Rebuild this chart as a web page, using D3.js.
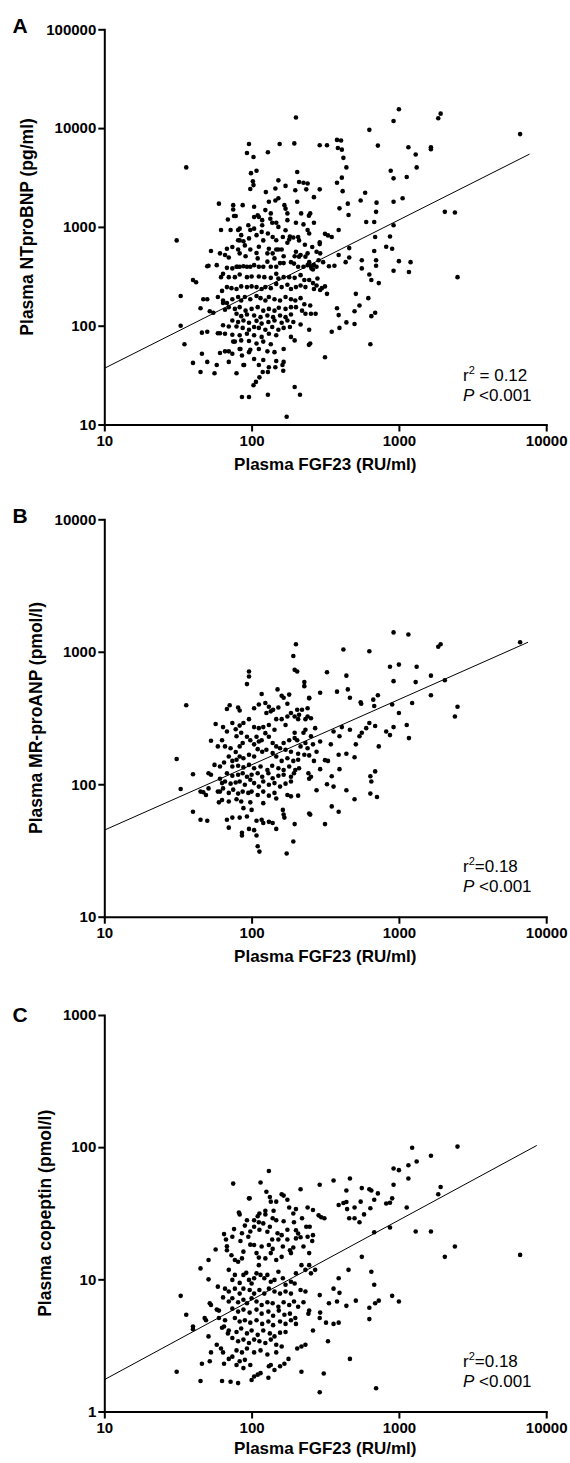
<!DOCTYPE html>
<html>
<head>
<meta charset="utf-8">
<script src="https://cdn.jsdelivr.net/npm/d3@7"></script>
<style>
  body { margin: 0; background: #fff; }
  svg { display: block; font-family: "Liberation Sans", Arial, sans-serif; }
</style>
</head>
<body>
<script>
// tick values
const fgfTicks = [10, 100, 1000, 10000];
const ntprobnpTicks = [10, 100, 1000, 10000, 100000];
const mrproanpTicks = [10, 100, 1000, 10000];
const copeptinTicks = [1, 10, 100, 1000];

// [FGF23 (RU/ml), NTproBNP (pg/ml)]
const pointsA = [
[31,730],[36,4000],[33,200],[33,100],[35,65],[40,290],[42,275],[40,42],[45,34],[50,43],[46,52],[46,85],[50,87],[45,150],[47,185],[50,185],[50,400],[51,405],[53,570],[52,140],[55,135],[56,33],[58,40],[60,1720],[62,930],[61,540],[58,410],[61,84],[61,53],[64,170],[66,145],[66,520],[70,490],[69,1190],[72,930],[75,1660],[75,1500],[76,1290],[78,1290],[70,55],[70,43],[75,69],[79,395],[81,930],[83,960],[83,730],[87,1660],[81,590],[84,58],[86,50],[86,19],[89,40],[96,19],[96,6900],[93,5600],[103,5100],[99,3500],[102,2900],[103,2650],[98,2420],[108,3700],[129,5700],[155,6900],[103,25],[107,27],[113,30],[119,34],[129,34],[129,20],[145,38],[162,40],[164,35],[173,12],[196,24],[213,20],[200,12800],[195,7000],[204,3600],[198,2350],[204,1800],[210,2850],[225,2800],[240,2750],[235,2400],[265,2000],[290,2400],[290,6700],[325,6700],[380,7600],[405,7500],[385,6300],[410,6050],[420,5000],[440,4000],[410,3150],[380,2800],[415,2300],[395,1540],[450,1720],[455,1320],[390,930],[550,1850],[590,2220],[630,9600],[720,6650],[705,1760],[700,1420],[680,1120],[600,1120],[880,3700],[920,3100],[920,1800],[1060,1950],[920,11800],[1000,15500],[1160,6400],[1300,5400],[1320,4000],[1130,3200],[1650,6400],[1650,6100],[1850,12600],[1920,14000],[2050,1420],[2400,1400],[2500,310],[6650,8700],[920,1040],[870,800],[820,630],[900,600],[920,360],[1000,450],[1200,440],[1170,350],[730,270],[690,790],[680,570],[700,460],[700,405],[630,330],[650,290],[620,190],[640,65],[650,125],[690,135],[560,460],[560,380],[460,490],[460,610],[435,440],[510,210],[540,160],[500,140],[500,104],[440,108],[390,128],[380,150],[395,95],[350,87],[315,48],[335,400],[365,405],[390,520],[330,820],[350,790],[315,850],[290,700],[290,670],[315,250],[325,210],[300,240],[280,300],[285,460],[265,410],[255,380],[240,930],[265,1100],[250,1370],[245,1300],[225,1060],[210,730],[230,660],[240,540],
[125,2250],[145,2450],[152,2960],[170,2600],[131,1800],[145,1850],[152,1950],[167,1660],[170,1530],[135,1370],[134,1210],[138,1100],[147,1100],[152,1000],[175,1370],[175,1170],[104,1260],[112,1260],[118,1040],[117,890],[104,960],[95,1040],[98,930],[108,825],[120,730],[96,765],[85,825],[88,715],[90,650],[83,540],[91,505],[98,590],[112,630],[108,545],[110,480],[128,540],[131,600],[139,540],[147,590],[143,480],[152,590],[160,590],[175,690],[182,800],[180,745],[192,780],[207,790],[210,500],[196,505],[185,440],[194,425],[207,395],[225,395],[240,410],[246,440],[253,400],[261,370],[232,500],[215,520],[200,560],[165,505],[165,430],[156,430],[147,395],[135,395],[128,445],[120,395],[112,395],[104,410],[98,395],[93,395],[88,400],[83,395],[80,395],[74,380],[68,385],[64,335],[62,310],[70,310],[77,310],[83,330],[93,310],[100,315],[112,315],[122,310],[135,305],[147,335],[152,300],[165,310],[180,310],[196,305],[215,325],[228,290],[246,290],[261,270],[276,255],[292,230],[265,235],[232,246],[215,255],[200,246],[185,235],[175,260],[160,246],[147,265],[135,240],[124,246],[117,235],[108,246],[100,250],[93,246],[85,250],[79,235],[73,240],[68,246],[63,225],
[59,195],[64,180],[68,170],[74,185],[81,195],[85,180],[90,195],[98,185],[108,200],[115,190],[124,180],[131,195],[143,185],[156,180],[170,195],[185,185],[198,180],[215,190],[228,165],[250,160],[70,154],[77,148],[83,154],[91,142],[100,148],[110,154],[120,142],[131,148],[143,142],[153,152],[170,148],[185,154],[200,154],[220,142],[79,132],[85,125],[93,130],[104,127],[115,122],[128,127],[140,122],[156,127],[170,122],[185,130],[232,132],[253,132],[272,132],
[74,113],[81,109],[88,113],[96,107],[108,112],[117,105],[130,109],[143,113],[160,107],[175,113],[192,109],[215,103],[64,101],[70,98],[79,98],[87,95],[96,91],[104,97],[112,95],[124,91],[138,97],[152,91],[165,95],[182,97],[246,91],[59,84],[66,83],[74,81],[83,80],[93,83],[104,80],[117,77],[131,83],[147,80],[185,77],
[77,69],[85,71],[96,70],[108,66],[120,69],[135,65],[196,71],[250,66],[245,64],[83,58],[98,57],[112,58],[128,55],[143,54],[165,58],[96,54],[66,55],[74,52],
[104,46],[120,45],[147,44],[112,40],[131,38],[165,43],[88,40],[79,33],
[74,627],[68,600],[81,732],[104,1600],[110,1310],[118,1170],[124,1480],[129,856],[139,790],[147,732],[163,790],[170,925],[200,1100],[217,1370],[246,856],[258,627],[276,560],[292,540],[306,440],[276,395]
];

// [FGF23 (RU/ml), MR-proANP (pmol/l)]
const pointsB = [
[31,155],[33,92],[36,395],[40,119],[40,62],[45,54],[50,53],[45,88],[47,87],[49,83],[51,93],[51,121],[53,118],[53,213],[57,285],[61,110],[60,73],[61,88],[64,270],[68,54],[70,47],[68,370],[71,395],[74,56],[81,380],[83,360],[96,710],[96,650],[93,570],[117,480],[150,520],[180,475],[192,930],[196,730],[204,710],[200,1140],[228,590],[228,550],[246,450],[246,445],[292,490],[325,700],[380,500],[440,660],[420,1040],[450,520],[465,450],[550,415],[555,405],[630,1010],[670,435],[720,470],[680,390],[920,1400],[870,770],[920,600],[1000,800],[1160,1350],[1320,770],[1300,590],[1650,660],[1650,470],[1230,410],[900,400],[1000,345],[920,270],[1130,280],[1170,223],[820,250],[870,235],[730,193],[690,275],[630,290],[600,265],[560,245],[540,230],[510,200],[465,258],[690,125],[640,115],[650,105],[640,85],[710,80],[500,77],[440,90],[390,62],[350,68],[315,50],[395,130],[390,167],[440,170],[500,160],[360,96],[325,100],[350,115],[410,270],[395,230],[360,250],[345,200],[330,150],[315,152],[292,130],[292,210],[276,176],[270,265],[253,230],[246,165],[265,150],[246,110],[276,90],[246,60],[250,59],[1850,1090],[1920,1140],[2050,610],[2500,385],[2400,325],[6650,1180],
[104,375],[112,400],[124,410],[131,385],[135,355],[126,345],[140,365],[152,380],[160,465],[165,450],[175,405],[185,345],[204,365],[210,335],[220,365],[240,325],[253,315],[240,375],[232,310],[207,310],[196,325],[175,325],[160,310],[147,310],[131,280],[120,270],[112,265],[104,270],[96,310],[88,290],[83,277],[78,260],[74,290],[68,250],[63,215],[59,193],[66,193],[72,187],[78,175],[83,193],[87,205],[93,228],[98,215],[108,228],[117,215],[131,228],[139,205],[147,193],[156,187],[165,205],[170,182],[185,176],[196,223],[204,215],[215,193],[232,205],[240,187],[261,200],[207,170],[228,167],[207,153],[192,150],[175,157],[160,150],[147,162],[139,172],[126,182],[118,176],[110,184],[104,162],[96,167],[88,157],[83,162],[79,153],[74,150],[70,162],[65,146],[61,136],[56,140],[74,136],[81,138],[88,134],[96,140],[104,132],[115,136],[128,128],[138,138],[152,132],[165,128],[180,136],[198,128],[210,132],[68,121],[74,116],[81,118],[87,121],[93,114],[100,118],[110,121],[118,114],[130,121],[139,111],[152,116],[165,118],[185,114],[194,121],[63,102],[66,105],[72,101],[78,103],[83,105],[90,99],[98,108],[104,102],[112,96],[120,105],[131,99],[143,102],[156,96],[170,101],[185,105],[59,88],[64,93],[70,86],[75,91],[81,85],[87,88],[95,86],[100,88],[110,83],[120,88],[131,82],[143,86],[175,83],[185,81],[207,82],[63,76],[70,74],[79,77],[85,74],[98,73],[120,72],[147,78],[88,66],[100,64],[83,56],[93,57],[108,53],[117,54],[131,52],[139,51],[163,64],[165,59],[167,56],[147,46],[120,51],[96,46],[86,43],[86,41],[104,45],[108,41],[110,34],[113,31],[173,30],[192,37],[196,50],[112,210],[124,243],[143,258],[170,280],[180,215],[104,200],[79,230],[85,245],[232,258],[225,245],[243,121],[253,114],[196,245]
];

// [FGF23 (RU/ml), copeptin (pmol/l)]
const pointsC = [
[31,2.0],[33,7.5],[36,5.4],[40,4.4],[40,4.2],[45,12.1],[46,2.3],[45,1.7],[48,5.1],[49,4.9],[51,14],[51,10],[51,3.7],[52,2.4],[53,2.8],[52,6.6],[53,6.4],[57,16.8],[58,5.9],[60,5.8],[58,3.2],[60,5.1],[59,8.8],[63,1.7],[62,3.0],[64,2.8],[63,4.3],[65,4.4],[65,22],[67,20],[68,17.8],[65,2.3],[70,2.5],[69,3.9],[72,1.68],[75,53],[76,24],[81,1.64],[82,32],[83,31],[84,19.5],[90,25.5],[88,16.2],[95,21],[96,41],[97,41],[98,18.3],[104,18.2],[100,1.73],[104,1.84],[110,1.9],[115,1.95],[110,30],[112,27],[115,54],[124,33],[126,46],[131,66],[139,29],[141,33],[130,1.8],[131,2.2],[135,2.25],[143,2.06],[156,2.2],[167,2.3],[178,2.5],[160,44],[165,43],[147,38.7],[180,35],[194,27],[215,48],[200,23.5],[207,22.2],[220,29],[235,25],[248,25],[240,35],[261,33.5],[218,2.0],[204,3.0],[218,3.1],[232,3.2],[290,52],[285,30.5],[297,29.5],[312,29],[290,7.6],[292,5.6],[290,5.1],[290,1.4],[309,1.94],[330,3.4],[320,4.7],[335,6.6],[360,8.5],[380,6.8],[390,4.7],[360,4.6],[390,10.2],[395,7.9],[360,56],[390,36.5],[420,37.8],[440,38.5],[445,34],[500,35],[465,58],[440,47],[460,29],[500,29],[540,27],[550,38.7],[580,31],[560,14.8],[455,11.8],[510,6.9],[440,6.3],[465,2.5],[560,49],[630,48],[650,47],[640,34.5],[680,40],[720,44.7],[680,22.7],[650,11.4],[680,9.1],[630,6.1],[630,5.0],[690,6.6],[730,6.9],[700,1.5],[820,37.5],[870,38],[900,41],[920,69],[1000,67],[920,52],[870,24.7],[900,7.5],[1000,6.8],[1130,35],[1160,73],[1230,99],[1160,58],[1320,78],[1300,23],[1650,23],[1650,86],[1850,44],[1920,50],[2050,14.8],[2400,17.7],[2500,101],[6650,15.3],
[104,25],[113,23.7],[120,26.5],[128,22.9],[133,25],[138,20],[131,18.2],[139,17],[152,20],[150,22.3],[160,21.6],[163,17.7],[175,20],[182,16.6],[192,17.4],[185,15.8],[200,20.4],[215,20.8],[225,17.7],[246,15.8],[258,19.5],[261,21.6],[117,17.7],[108,15.8],[112,14.6],[124,14.4],[135,15.8],[147,14.0],[160,14.8],[77,14.0],[73,15.2],[81,13.6],[86,14.4],
[70,11.8],[74,9.9],[77,10.8],[83,9.4],[88,10.8],[92,11.2],[96,9.9],[100,9.3],[104,10.2],[108,11.1],[112,12.8],[115,10.8],[122,10.2],[128,10.8],[135,9.6],[143,9.9],[152,11.4],[163,10.2],[170,9.1],[185,9.6],[200,11.1],[218,12.8],[232,11.8],[246,12.8],[253,11.1],[270,11.8],[196,9.3],[215,8.3],[66,8.5],[70,8.1],[77,8.5],[83,7.8],[88,8.5],[97,8.3],[104,7.8],[113,8.3],[122,7.8],[131,8.5],[143,8.1],[156,7.8],[170,8.1],[185,7.8],[232,8.1],
[64,7.3],[70,6.8],[74,7.2],[81,6.7],[88,7.0],[93,6.6],[100,7.2],[108,6.8],[117,6.4],[128,6.7],[139,6.6],[152,6.2],[165,6.7],[180,6.4],[194,6.8],[207,6.2],[225,6.7],[246,5.8],[243,5.5],[74,6.0],[81,5.7],[88,5.9],[97,5.6],[108,5.9],[117,5.5],[130,5.7],[140,5.3],[153,5.8],[167,5.4],[182,5.5],[198,5.1],[66,4.9],[77,5.1],[83,4.8],[90,4.9],[98,4.7],[108,4.9],[118,4.6],[130,4.8],[140,4.5],[156,4.8],[170,4.6],[185,4.9],[200,4.6],[261,4.1],
[70,4.1],[79,4.0],[85,4.25],[93,3.9],[100,4.1],[110,3.8],[120,4.1],[133,3.9],[143,3.7],[156,3.95],[170,4.0],[74,3.6],[81,3.4],[88,3.5],[96,3.3],[104,3.5],[113,3.4],[124,3.3],[135,3.5],[147,3.2],[160,3.1],[79,2.9],[86,2.8],[93,3.0],[104,2.8],[115,2.9],[128,2.7],[147,2.8],[74,2.6],[83,2.4],[90,2.46],[98,2.25],[88,2.13],[79,2.25],
[93,28],[98,23],[147,28],[165,27.5],[175,23.7],[240,21],[192,31.5],[200,34],[175,40],[133,42],[135,38.7],[124,31],[113,31.5],[104,28],[74,21],[86,22.3],[68,16.6]
];

// regression line end points (log-log fit)
const fitA = [[10, 37], [7700, 5450]];
const fitB = [[10, 45], [7530, 1180]];
const fitC = [[10, 1.74], [8630, 103]];

const panelLetters = ["A", "B", "C"];
const yTitles = ["Plasma NTproBNP (pg/ml)", "Plasma MR-proANP (pmol/l)", "Plasma copeptin (pmol/l)"];
const xTitle = "Plasma FGF23 (RU/ml)";
const r2Labels = [" = 0.12", "=0.18", "=0.18"];
const pLabel = " <0.001";

const width = 570, height = 1463;

const layout = [
  { top: 29.3, bottom: 424.5, letterY: 33, yTitleX: 33, xTitleY: 470, statY: 381 },
  { top: 519.3, bottom: 916.7, letterY: 523, yTitleX: 42, xTitleY: 962, statY: 872 },
  { top: 1015, bottom: 1411.5, letterY: 1022, yTitleX: 51, xTitleY: 1454, statY: 1367 }
];

const panels = [
  { ticks: ntprobnpTicks, domain: [10, 100000], pts: pointsA, fit: fitA },
  { ticks: mrproanpTicks, domain: [10, 10000], pts: pointsB, fit: fitB },
  { ticks: copeptinTicks, domain: [1, 1000], pts: pointsC, fit: fitC }
];

const svg = d3.select("body").append("svg")
  .attr("width", width)
  .attr("height", height);

svg.append("rect").attr("width", width).attr("height", height).attr("fill", "#fff");

const x = d3.scaleLog().domain([10, 10000]).range([104.3, 546.2]);

panels.forEach((p, i) => {
  const L = layout[i];
  const y = d3.scaleLog().domain(p.domain).range([L.bottom, L.top]);
  const g = svg.append("g");

  // regression line
  g.append("path")
    .datum(p.fit)
    .attr("d", d3.line().x(d => x(d[0])).y(d => y(d[1])))
    .attr("fill", "none")
    .attr("stroke", "#000")
    .attr("stroke-width", 1);

  // points
  g.selectAll("circle")
    .data(p.pts)
    .join("circle")
    .attr("cx", d => x(d[0]))
    .attr("cy", d => y(d[1]))
    .attr("r", 2.3)
    .attr("fill", "#000");

  // axes
  const xAxis = g.append("g")
    .attr("transform", `translate(0,${L.bottom})`)
    .call(d3.axisBottom(x).tickValues(fgfTicks).tickFormat(d3.format("d")).tickSize(7).tickSizeOuter(0).tickPadding(4));
  const yAxis = g.append("g")
    .attr("transform", `translate(${x(10)},0)`)
    .call(d3.axisLeft(y).tickValues(p.ticks).tickFormat(d3.format("d")).tickSize(6).tickSizeOuter(0).tickPadding(2));

  [xAxis, yAxis].forEach(a => {
    a.select(".domain").attr("stroke-width", 2).attr("stroke-linecap", "square");
    a.selectAll(".tick line").attr("stroke-width", 2);
    a.selectAll(".tick text")
      .attr("font-family", "Liberation Sans, Arial, sans-serif")
      .attr("font-size", 15)
      .attr("font-weight", "bold")
      .attr("fill", "#000");
  });

  // titles
  g.append("text")
    .attr("x", (x.range()[0] + x.range()[1]) / 2)
    .attr("y", L.xTitleY)
    .attr("text-anchor", "middle")
    .attr("font-size", 17)
    .attr("font-weight", "bold")
    .text(xTitle);

  g.append("text")
    .attr("transform", `translate(${L.yTitleX},${(L.top + L.bottom) / 2}) rotate(-90)`)
    .attr("text-anchor", "middle")
    .attr("font-size", 17.5)
    .attr("font-weight", "bold")
    .text(yTitles[i]);

  g.append("text")
    .attr("x", 12.5)
    .attr("y", L.letterY)
    .attr("font-size", 21)
    .attr("font-weight", "bold")
    .text(panelLetters[i]);

  // statistics
  const s1 = g.append("text").attr("x", 463).attr("y", L.statY).attr("font-size", 17);
  s1.append("tspan").text("r");
  s1.append("tspan").attr("font-size", 11).attr("dy", -7).text("2");
  s1.append("tspan").attr("dy", 7).text(r2Labels[i]);

  const s2 = g.append("text").attr("x", 463).attr("y", L.statY + 20).attr("font-size", 17);
  s2.append("tspan").attr("font-style", "italic").text("P");
  s2.append("tspan").text(pLabel);
});
</script>
</body>
</html>
